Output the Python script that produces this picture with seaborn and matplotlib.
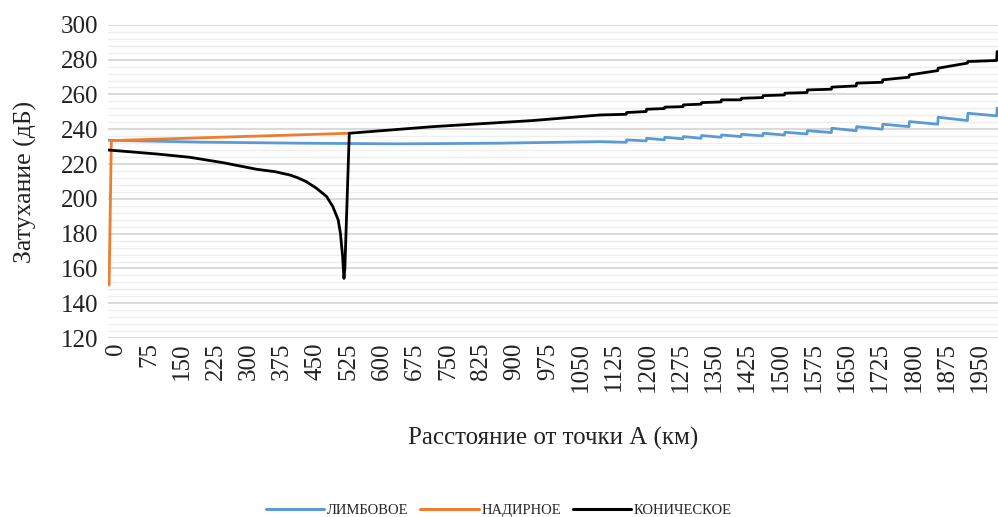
import matplotlib
matplotlib.use("Agg")
import matplotlib.pyplot as plt
import seaborn as sns
import pandas as pd
from matplotlib.ticker import MultipleLocator
from matplotlib.lines import Line2D

# ---- data ----
series_names = ["ЛИМБОВОЕ", "НАДИРНОЕ", "КОНИЧЕСКОЕ"]
colors = ["#5B9BD5", "#ED7D31", "#000000"]

# smooth part of ЛИМБОВОЕ
blue_x0 = [-18, 190, 415, 641, 867, 1093]
blue_y0 = [233.7, 232.6, 232.0, 231.6, 232.0, 232.9]

# НАДИРНОЕ
orange_x = [-15, -10, 528]
orange_y = [150.5, 233.5, 237.7]

# smooth part of КОНИЧЕСКОЕ
black_x0 = [-18, 92, 167, 242, 318, 360, 393, 410, 430, 453, 476, 490, 502, 507, 512, 515,
            517, 527, 716, 941, 1093]
black_y0 = [228.1, 225.8, 223.9, 220.8, 217.0, 215.6, 213.7, 212.2, 209.9, 206.1, 201.3, 195.5,
            187.9, 180.2, 166.8, 154.3, 160.0, 237.7, 241.5, 245.0, 248.2]

# stepped part (km of each jump, value just before and just after)
step_km = [1153, 1198, 1239, 1281, 1322, 1367, 1412, 1461, 1510, 1561,
           1616, 1672, 1731, 1791, 1856, 1923, 1989]
blue_before = [232.5, 233.3, 233.9, 234.5, 234.8, 235.4, 235.8, 236.2, 236.7, 237.3,
               238.1, 239.1, 240.0, 241.5, 242.9, 245.0, 247.7]
blue_after = [233.9, 234.8, 235.4, 235.8, 236.4, 236.7, 237.1, 237.7, 238.3, 239.2,
              240.6, 241.5, 242.9, 244.4, 246.9, 249.2, 252.1]
black_before = [248.6, 250.2, 251.9, 253.0, 254.4, 255.7, 256.9, 258.2, 259.7, 261.1,
                263.0, 264.9, 267.0, 269.9, 273.7, 278.0, 279.5]
black_after = [249.6, 251.5, 252.7, 254.0, 255.3, 256.9, 257.8, 259.3, 260.7, 262.6,
               264.2, 266.5, 268.4, 271.2, 275.1, 278.9, 284.6]

xtick_vals = list(range(0, 1951, 75))


def build(x0, y0, before, after):
    xs, ys = list(x0), list(y0)
    for s, b, a in zip(step_km, before, after):
        xs += [s - 1.0, s]
        ys += [b, a]
    xs.append(step_km[-1] + 3)
    ys.append(after[-1])
    return xs, ys


bx, by = build(blue_x0, blue_y0, blue_before, blue_after)
kx, ky = build(black_x0, black_y0, black_before, black_after)

df = pd.concat([
    pd.DataFrame({"x": bx, "y": by, "s": series_names[0]}),
    pd.DataFrame({"x": orange_x, "y": orange_y, "s": series_names[1]}),
    pd.DataFrame({"x": kx, "y": ky, "s": series_names[2]}),
], ignore_index=True)

sns.set_theme(style="white")
plt.rcParams["font.family"] = ["Liberation Serif", "DejaVu Serif"]

fig = plt.figure(figsize=(9.98, 5.17), dpi=100)
ax = fig.add_axes([0.108, 0.346, 0.892, 0.606])

sns.lineplot(data=df, x="x", y="y", hue="s", palette=dict(zip(series_names, colors)),
             estimator=None, sort=False, linewidth=2.0, ax=ax, legend=False)

ax.set_xlim(-18, 1991)
ax.set_ylim(120, 300)
ax.yaxis.set_major_locator(MultipleLocator(20))
ax.yaxis.set_minor_locator(MultipleLocator(4))
ax.grid(which="major", axis="y", color="#d9d9d9", linewidth=1.4, zorder=0)
ax.grid(which="minor", axis="y", color="#eeeeee", linewidth=1.0, zorder=0)
ax.grid(axis="x", visible=False)
ax.set_axisbelow(True)
for sp in ax.spines.values():
    sp.set_visible(False)

ax.set_xticks(xtick_vals)
ax.set_xticklabels([str(v) for v in xtick_vals], rotation=90, fontsize=18)
ax.tick_params(axis="y", labelsize=18, length=0, pad=7)
ax.tick_params(axis="x", length=0, pad=3)
for lab in ax.get_yticklabels() + ax.get_xticklabels():
    lab.set_color("#222222")

ax.set_ylabel("Затухание (дБ)", fontsize=18.5, color="#222222", labelpad=17)
ax.set_xlabel("Расстояние от точки А (км)", fontsize=18, color="#222222", labelpad=25)

handles = [Line2D([0], [0], color=c, lw=2.2) for c in colors]
fig.legend(handles, series_names, loc="center", bbox_to_anchor=(0.5, 0.013),
           ncol=3, frameon=False, fontsize=10.5, handlelength=4.0, handletextpad=0.2,
           columnspacing=0.8)

fig.savefig("out.png", dpi=100)
